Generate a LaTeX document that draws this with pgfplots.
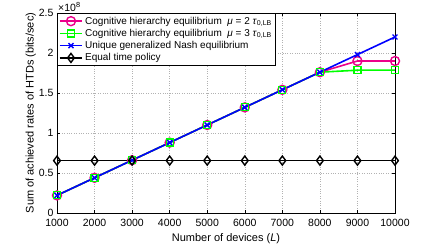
\documentclass[border=0pt]{standalone}
\usepackage{pgfplots}
\pgfplotsset{compat=1.18}
\usepackage{fontspec}
\setmainfont{Liberation Sans}
\begin{document}
\begin{tikzpicture}
\useasboundingbox (-57pt,-32pt) rectangle (379pt,213pt);
\begin{axis}[
  at={(0,0)}, anchor=south west,
  scale only axis, width=338pt, height=200pt,
  clip=false,
  xmin=1000, xmax=10000, ymin=0, ymax=2.5,
  xtick={1000,2000,...,10000},
  ytick={0,0.5,1,1.5,2,2.5},
  yticklabels={0,0.5,1,1.5,2,2.5},
  scaled x ticks=false,
  /pgf/number format/assume math mode=true,
  /pgf/number format/set thousands separator={},
  tick align=inside,
  major tick length=3pt,
  tick style={black, line width=0.5pt},
  axis line style={black, line width=0.7pt},
  grid=major,
  grid style={dotted, gray!60},
  tick label style={font=\fontsize{10.5}{12}\selectfont},
  xticklabel style={yshift=-2.5pt},
  label style={font=\fontsize{11}{13}\selectfont},
  xlabel={Number of devices (\textit{L})},
  ylabel={Sum of achieved rates of HTDs (bits/sec)},
  xlabel style={yshift=0pt},
  ylabel style={yshift=-4pt},
  legend style={at={(rel axis cs:0,1)}, anchor=north west, font=\fontsize{10}{12}\selectfont, draw=black, line width=0.6pt, row sep=-0.5pt, inner sep=1.5pt, cells={anchor=west}},
  legend cell align=left,
  legend image code/.code={\draw[mark repeat=2,mark phase=2] plot coordinates {(0cm,0cm) (0.4cm,0cm) (0.8cm,0cm)};},
]
\addplot[magenta, line width=1.6pt, mark=o, mark size=4.5pt, mark options={line width=1.4pt}] coordinates {
(1000,0.22) (2000,0.44) (3000,0.66) (4000,0.88) (5000,1.10) (6000,1.32) (7000,1.54) (8000,1.76) (9000,1.90) (10000,1.90)};
\addlegendentry{Cognitive hierarchy equilibrium \ \textit{μ} = 2 \textit{τ}\textsubscript{0,LB}}
\addplot[green, line width=1.6pt, mark=square, mark size=3.5pt, mark options={line width=1.2pt}] coordinates {
(1000,0.22) (2000,0.44) (3000,0.66) (4000,0.88) (5000,1.10) (6000,1.32) (7000,1.54) (8000,1.76) (9000,1.785) (10000,1.785)};
\addlegendentry{Cognitive hierarchy equilibrium \ \textit{μ} = 3 \textit{τ}\textsubscript{0,LB}}
\addplot[blue, line width=1.6pt, mark=x, mark size=3.5pt, mark options={line width=1.4pt}] coordinates {
(1000,0.22) (2000,0.44) (3000,0.66) (4000,0.88) (5000,1.10) (6000,1.32) (7000,1.54) (8000,1.76) (9000,1.98) (10000,2.20)};
\addlegendentry{Unique generalized Nash equilibrium}
\addplot[black, line width=1.6pt, mark=diamond, mark size=4.5pt, mark options={line width=1.4pt}] coordinates {
(1000,0.655) (2000,0.655) (3000,0.655) (4000,0.655) (5000,0.655) (6000,0.655) (7000,0.655) (8000,0.655) (9000,0.655) (10000,0.655)};
\addlegendentry{Equal time policy}
\node[anchor=south west, inner sep=0pt, xshift=1pt, yshift=1pt, font=\fontsize{10.5}{12}\selectfont] at (rel axis cs:0,1) {×10\textsuperscript{8}};
\end{axis}
\end{tikzpicture}
\end{document}
